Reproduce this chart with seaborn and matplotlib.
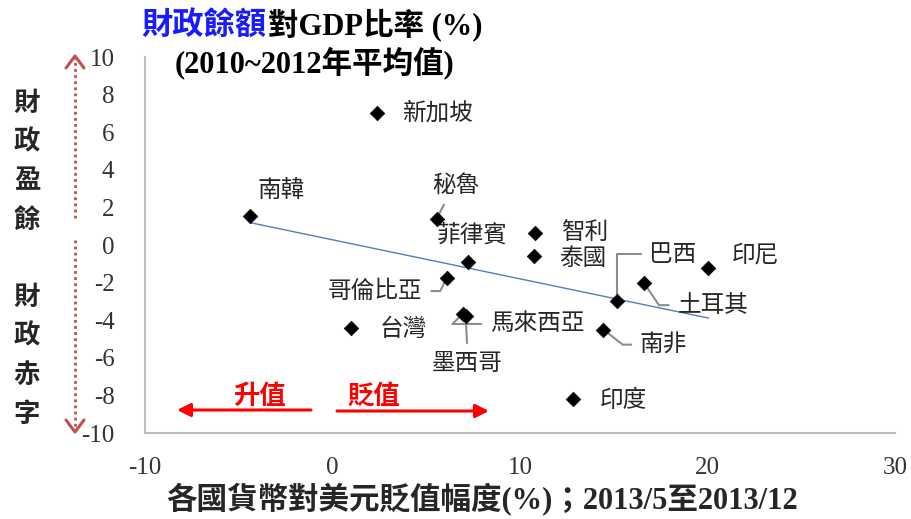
import matplotlib
matplotlib.use("Agg")
import matplotlib.pyplot as plt
import seaborn as sns
import pandas as pd
import numpy as np
from matplotlib.lines import Line2D

# ---- data ----
countries = ["新加坡", "南韓", "秘魯", "菲律賓", "智利", "泰國", "巴西", "印尼",
             "土耳其", "南非", "哥倫比亞", "台灣", "馬來西亞", "墨西哥", "印度"]
depreciation = [2.4, -4.4, 5.55, 7.25, 10.8, 10.75, 15.2, 20.05,
                16.6, 14.45, 6.1, 1.0, 6.95, 7.1, 12.85]
fiscal_balance = [7.0, 1.55, 1.4, -0.9, 0.65, -0.6, -3.0, -1.2,
                  -2.0, -4.5, -1.75, -4.4, -3.65, -3.8, -8.2]
x_ticks = [-10, 0, 10, 20, 30]
y_ticks = [-10, -8, -6, -4, -2, 0, 2, 4, 6, 8, 10]

df = pd.DataFrame({"country": countries, "dep": depreciation, "fb": fiscal_balance})

sns.set_style("white")
CJK = ["Noto Sans CJK TC", "DejaVu Sans"]
SERIF_CJK = ["Liberation Serif", "Noto Sans CJK TC"]
plt.rcParams["font.family"] = CJK

W, H = 912, 519
fig = plt.figure(figsize=(W / 100, H / 100), dpi=100)
ax = fig.add_axes([145 / W, 1 - 433 / H, 750 / W, 376 / H])

sns.regplot(data=df, x="dep", y="fb", ax=ax, ci=None, scatter=False, truncate=True,
            line_kws=dict(color="#4f81bd", lw=1.0))
sns.scatterplot(data=df, x="dep", y="fb", ax=ax, marker="D", s=55, color="black",
                edgecolor="black", linewidth=0.5, zorder=5)

ax.set_xlim(-10, 30)
ax.set_ylim(-10, 10)
ax.set_xticks(x_ticks)
ax.set_yticks(y_ticks)
ax.set_xticklabels([str(t) for t in x_ticks], family="Liberation Serif", fontsize=18,
                   color="#333333")
ax.set_yticklabels([str(t) for t in y_ticks], family="Liberation Serif", fontsize=18,
                   color="#333333")
ax.tick_params(axis="both", length=0)
ax.tick_params(axis="y", pad=22)
ax.tick_params(axis="x", pad=17)
ax.set_xlabel("")
ax.set_ylabel("")
for s in ["top", "right"]:
    ax.spines[s].set_visible(False)
for s in ["left", "bottom"]:
    ax.spines[s].set_color("#bfbfbf")
    ax.spines[s].set_linewidth(1.5)

# ---- labels ----
lab_kw = dict(fontsize=17, color="#262626", family=CJK, va="center")
lead = dict(arrowstyle="-", color="#8c8c8c", lw=1.5, shrinkA=4, shrinkB=2)

def lab(name, tx, ty, ha="left", conn=None, relpos=None):
    i = countries.index(name)
    if conn is None:
        ax.text(tx, ty, name, ha=ha, **lab_kw)
    else:
        ap = dict(lead, connectionstyle=conn, relpos=relpos)
        ax.annotate(name, xy=(depreciation[i], fiscal_balance[i]), xytext=(tx, ty),
                    textcoords="data", ha=ha, arrowprops=ap, **lab_kw)

lab("新加坡", 3.75, 7.0)
lab("南韓", -4.0, 2.9)
lab("秘魯", 5.3, 3.2, conn="arc3", relpos=(0.35, 0.0))
lab("菲律賓", 5.55, 0.5)
lab("智利", 12.2, 0.6)
lab("泰國", 12.1, -0.7)
lab("巴西", 16.9, -0.5, conn="angle,angleA=0,angleB=90,rad=0", relpos=(0, 0.5))
lab("印尼", 21.3, -0.55)
lab("土耳其", 18.4, -3.2, conn="angle,angleA=0,angleB=-56,rad=0", relpos=(0, 0.5))
lab("南非", 16.4, -5.3, conn="angle,angleA=0,angleB=-38,rad=0", relpos=(0, 0.5))
lab("哥倫比亞", 4.8, -2.45, ha="right", conn="angle,angleA=0,angleB=63,rad=0", relpos=(1, 0.5))
lab("台灣", 2.5, -4.5)
lab("馬來西亞", 8.4, -4.2, conn="angle,angleA=0,angleB=45,rad=0", relpos=(0, 0.5))
lab("墨西哥", 7.2, -6.3, ha="center", conn="arc3", relpos=(0.5, 1.0))
lab("印度", 14.25, -8.25)

# ---- title ----
fig.text(266 / W, 1 - 25 / H, "財政餘額", color="#1a1aff", fontsize=22.5, ha="right",
         va="center", family=CJK, fontweight="bold")
fig.text(268 / W, 1 - 25 / H, "對GDP比率 (%)", color="black", fontsize=22, ha="left",
         va="center", family=SERIF_CJK, fontweight="bold")
fig.text(315 / W, 1 - 63 / H, "(2010~2012年平均值)", color="black", fontsize=22, ha="center",
         va="center", family=SERIF_CJK, fontweight="bold")

# ---- x label ----
fig.text(482 / W, 1 - 500 / H, "各國貨幣對美元貶值幅度(%)；2013/5至2013/12", fontsize=22,
         ha="center", va="center", family=SERIF_CJK, fontweight="bold")

# ---- left vertical labels ----
for k, ch in enumerate("財政盈餘"):
    fig.text(27 / W, 1 - (103 + k * 39) / H, ch, fontsize=19, ha="center", va="center",
             family=CJK, fontweight="bold")
for k, ch in enumerate("財政赤字"):
    fig.text(27 / W, 1 - (297 + k * 39) / H, ch, fontsize=19, ha="center", va="center",
             family=CJK, fontweight="bold")

# ---- dotted double arrow on left ----
def fp(px, py):
    return px / W, 1 - py / H

dred = "#c0504d"
for (y0, y1) in [(218, 58), (240, 430)]:
    (xa, ya), (xb, yb) = fp(75, y0), fp(75, y1)
    fig.add_artist(Line2D([xa, xb], [ya, yb], color=dred, lw=2, ls=(0, (1, 1.2))))
for (tip, sgn) in [(56, 1), (432, -1)]:
    xs = [fp(66, tip + sgn * 12)[0], fp(75, tip)[0], fp(84, tip + sgn * 12)[0]]
    ys = [fp(66, tip + sgn * 12)[1], fp(75, tip)[1], fp(84, tip + sgn * 12)[1]]
    fig.add_artist(Line2D(xs, ys, color=dred, lw=2.2))

# ---- red appreciation / depreciation arrows ----
ax.annotate("", xy=fp(177, 410), xycoords="figure fraction", xytext=fp(311, 410),
            textcoords="figure fraction",
            arrowprops=dict(arrowstyle="-|>,head_length=0.8,head_width=0.4", color="red", lw=2.2,
                            shrinkA=0, shrinkB=0))
ax.annotate("", xy=fp(489, 411), xycoords="figure fraction", xytext=fp(337, 411),
            textcoords="figure fraction",
            arrowprops=dict(arrowstyle="-|>,head_length=0.8,head_width=0.4", color="red", lw=2.2,
                            shrinkA=0, shrinkB=0))
fig.text(*fp(260, 396), "升值", color="red", fontsize=19, ha="center", va="center",
         family=CJK, fontweight="bold")
fig.text(*fp(374, 396), "貶值", color="red", fontsize=19, ha="center", va="center",
         family=CJK, fontweight="bold")

fig.savefig("out.png", dpi=100)
